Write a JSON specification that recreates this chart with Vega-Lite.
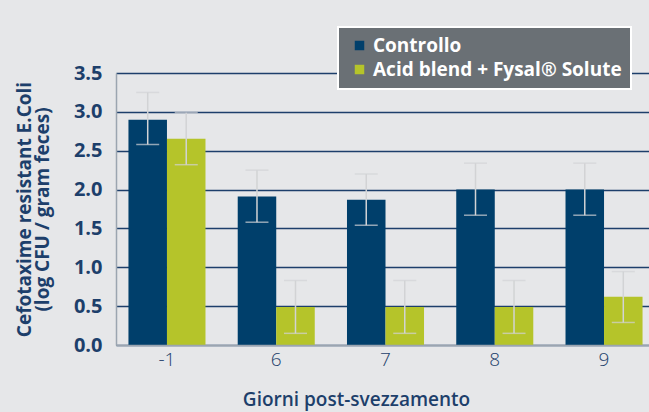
{
  "$schema": "https://vega.github.io/schema/vega-lite/v6.json",
  "autosize": {"type": "none"},
  "padding": {"left": 116, "top": 73, "right": 0, "bottom": 67},
  "width": 533,
  "height": 272,
  "background": "#e6e7e9",
  "config": {
    "view": {"stroke": null},
    "font": "Open Sans",
    "axisY": {
      "labelOverlap": false, "format": ".1f",
      "titleFontSize": 19, "titleFontWeight": "bold", "titleColor": "#1d3f6b", "titleLineHeight": 18,
      "titlePadding": 21,
      "labelFontSize": 20, "labelFontWeight": "bold", "labelColor": "#1d3f6b", "labelPadding": 14,
      "ticks": false, "domainColor": "#9ba5b0", "domainWidth": 1.5,
      "gridColor": "#1d3f6b", "gridWidth": 1.3, "gridOpacity": 1
    }
  },
  "data": {
    "values": [
      {"day": "-1", "group": "Controllo", "value": 2.90, "lo": 2.58, "hi": 3.25},
      {"day": "-1", "group": "Acid blend + Fysal® Solute", "value": 2.655, "lo": 2.32, "hi": 2.99},
      {"day": "6", "group": "Controllo", "value": 1.91, "lo": 1.58, "hi": 2.25},
      {"day": "6", "group": "Acid blend + Fysal® Solute", "value": 0.49, "lo": 0.15, "hi": 0.83},
      {"day": "7", "group": "Controllo", "value": 1.87, "lo": 1.54, "hi": 2.20},
      {"day": "7", "group": "Acid blend + Fysal® Solute", "value": 0.49, "lo": 0.15, "hi": 0.83},
      {"day": "8", "group": "Controllo", "value": 2.00, "lo": 1.67, "hi": 2.34},
      {"day": "8", "group": "Acid blend + Fysal® Solute", "value": 0.49, "lo": 0.15, "hi": 0.83},
      {"day": "9", "group": "Controllo", "value": 2.00, "lo": 1.67, "hi": 2.34},
      {"day": "9", "group": "Acid blend + Fysal® Solute", "value": 0.62, "lo": 0.29, "hi": 0.945}
    ]
  },
  "encoding": {
    "x": {
      "field": "day", "type": "nominal", "sort": ["-1", "6", "7", "8", "9"],
      "scale": {"paddingInner": 0.295, "paddingOuter": 0.114, "range": [0, 539]},
      "axis": {
        "title": "Giorni post-svezzamento",
        "titleFontSize": 19, "titleFontWeight": 600, "titleColor": "#1d3f6b",
        "titlePadding": 21, "titleX": 240, "titleAnchor": "middle",
        "labelAngle": 0, "labelFontSize": 19, "labelFontWeight": 300, "labelColor": "#1d3f6b",
        "labelPadding": 5, "ticks": false, "domainColor": "#9ba5b0", "domainWidth": 1.5,
        "zindex": 1
      }
    },
    "xOffset": {"field": "group", "type": "nominal", "sort": ["Controllo", "Acid blend + Fysal® Solute"], "scale": {"paddingInner": 0, "paddingOuter": 0}}
  },
  "layer": [
    {
      "mark": {"type": "bar"},
      "encoding": {
        "y": {
          "field": "value", "type": "quantitative",
          "scale": {"domain": [0, 3.5], "nice": false},
          "axis": {"values": [0, 0.5, 1, 1.5, 2, 2.5, 3, 3.5], "title": ["Cefotaxime resistant E.Coli", "(log CFU / gram feces)"]}
        },
        "color": {
          "field": "group", "type": "nominal",
          "sort": ["Controllo", "Acid blend + Fysal® Solute"],
          "scale": {"domain": ["Controllo", "Acid blend + Fysal® Solute"], "range": ["#003f6b", "#b5c42a"]},
          "legend": {
            "title": null, "orient": "none", "legendX": 222, "legendY": -46,
            "fillColor": "#6a7075", "strokeColor": "#ffffff",
            "padding": 9, "rowPadding": 4,
            "symbolType": "square", "symbolSize": 90, "symbolStrokeWidth": 0, "symbolOffset": 3,
            "labelColor": "#ffffff", "labelFontSize": 19, "labelFontWeight": "bold", "labelLimit": 400,
            "encode": {"legend": {"update": {"strokeWidth": {"value": 2}}}}
          }
        }
      }
    },
    {
      "mark": {"type": "rule", "color": "#d2d3d5", "strokeWidth": 1.5},
      "encoding": {
        "y": {"field": "lo", "type": "quantitative", "axis": {"values": [0, 0.5, 1, 1.5, 2, 2.5, 3, 3.5], "title": ["Cefotaxime resistant E.Coli", "(log CFU / gram feces)"]}},
        "y2": {"field": "hi"}
      }
    },
    {
      "mark": {"type": "tick", "color": "#d2d3d5", "size": 23, "thickness": 1.5},
      "encoding": {"y": {"field": "hi", "type": "quantitative", "axis": {"values": [0, 0.5, 1, 1.5, 2, 2.5, 3, 3.5], "title": ["Cefotaxime resistant E.Coli", "(log CFU / gram feces)"]}}}
    },
    {
      "mark": {"type": "tick", "color": "#d2d3d5", "size": 23, "thickness": 1.5},
      "encoding": {"y": {"field": "lo", "type": "quantitative", "axis": {"values": [0, 0.5, 1, 1.5, 2, 2.5, 3, 3.5], "title": ["Cefotaxime resistant E.Coli", "(log CFU / gram feces)"]}}}
    }
  ]
}
